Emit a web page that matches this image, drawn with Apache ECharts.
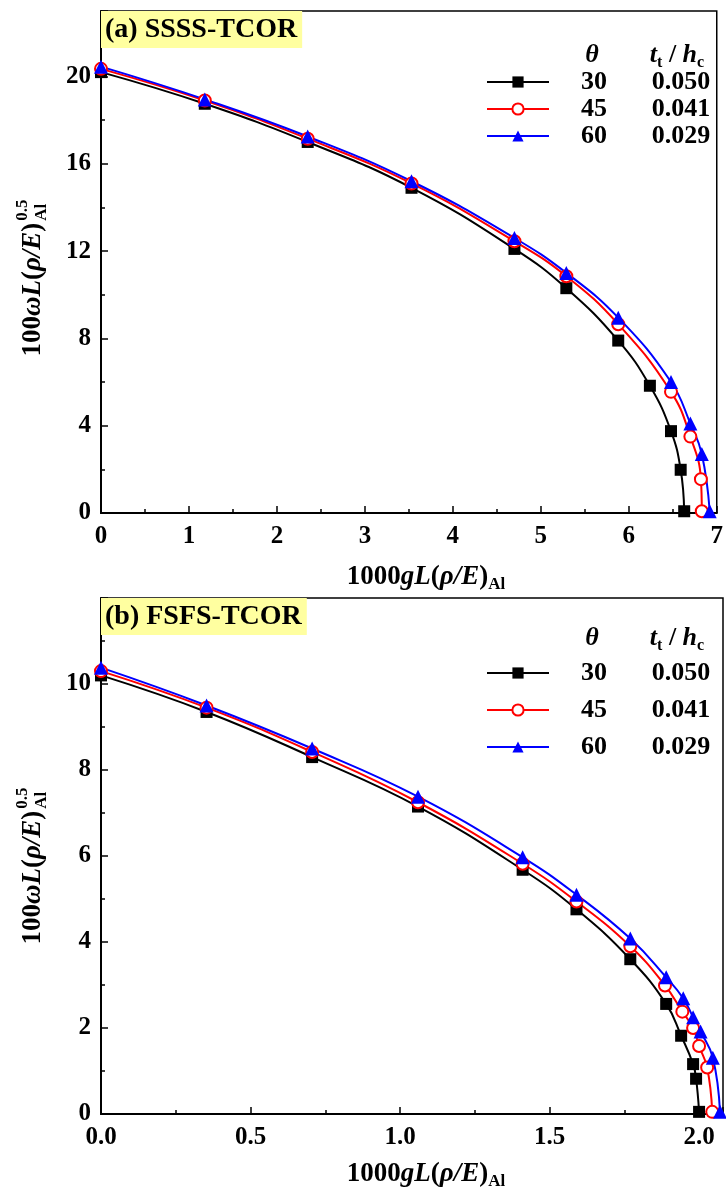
<!DOCTYPE html>
<html><head><meta charset="utf-8">
<script src="https://cdn.jsdelivr.net/npm/echarts@6/dist/echarts.min.js"></script>
<style>html,body{margin:0;padding:0;background:#fff}#c{width:726px;height:1189px}</style>
</head><body><div id="c"></div>
<script>
// ---------- data ----------
const thetaLabels = ['30', '45', '60'];
const ratioLabels = ['0.050', '0.041', '0.029'];
const colors = ['#000000', '#ff0000', '#0000ff'];

// (a) SSSS-TCOR
const a30x = [0, 1.18, 2.35, 3.53, 4.70, 5.29, 5.88, 6.24, 6.48, 6.59, 6.63];
const a30y = [20.2, 18.75, 17.0, 14.9, 12.1, 10.3, 7.9, 5.83, 3.75, 1.98, 0.08];
const a45x = [0, 1.18, 2.35, 3.53, 4.70, 5.29, 5.88, 6.48, 6.70, 6.82, 6.83];
const a45y = [20.35, 18.9, 17.15, 15.1, 12.45, 10.85, 8.65, 5.55, 3.5, 1.55, 0.08];
const a60x = [0, 1.18, 2.35, 3.53, 4.70, 5.29, 5.88, 6.48, 6.70, 6.83, 6.92];
const a60y = [20.45, 18.95, 17.25, 15.2, 12.6, 11.0, 8.95, 6.0, 4.1, 2.7, 0.08];

// (b) FSFS-TCOR
const b30x = [0, 0.353, 0.706, 1.06, 1.41, 1.59, 1.77, 1.89, 1.94, 1.98, 1.99, 2.0];
const b30y = [10.2, 9.35, 8.3, 7.15, 5.68, 4.76, 3.6, 2.56, 1.82, 1.16, 0.82, 0.05];
const b45x = [0, 0.353, 0.706, 1.06, 1.41, 1.59, 1.77, 1.886, 1.944, 1.98, 2.0, 2.027, 2.044];
const b45y = [10.3, 9.45, 8.42, 7.25, 5.82, 4.94, 3.9, 2.99, 2.38, 2.0, 1.58, 1.08, 0.05];
const b60x = [0, 0.353, 0.706, 1.06, 1.41, 1.59, 1.77, 1.89, 1.947, 1.98, 2.005, 2.046, 2.07];
const b60y = [10.38, 9.5, 8.5, 7.38, 5.97, 5.1, 4.08, 3.18, 2.69, 2.25, 1.92, 1.31, 0.05];

const xTicksA = { min: 0, max: 7, interval: 1 };
const yTicksA = { min: 0, max: 23, interval: 4 };
const xTicksB = { min: 0, max: 2.08, interval: 0.5 };
const yTicksB = { min: 0, max: 12, interval: 2 };

// ---------- helpers ----------
const FONT = '"Liberation Serif", "Times New Roman", serif';
const zip = (xs, ys) => xs.map((x, i) => [x, ys[i]]);
const mctx = document.createElement('canvas').getContext('2d');
function tw(font, s) { mctx.font = font; return mctx.measureText(s).width; }

const symbols = ['rect', 'circle', 'triangle'];
const symSizes = [12, 12, 14];
function mkSeries(name, data, k, gi) {
  return {
    type: 'line', name: name, xAxisIndex: gi, yAxisIndex: gi, data: data,
    smooth: 0.45,
    symbol: symbols[k], symbolSize: symSizes[k], showAllSymbol: true,
    lineStyle: { color: colors[k], width: 2 },
    itemStyle: k === 1 ? { color: '#ffffff', borderColor: colors[k], borderWidth: 2 } : { color: colors[k] },
    emphasis: { disabled: true }, animation: false, z: 3
  };
}

function xAxis(gi, t, fmt) {
  return {
    gridIndex: gi, type: 'value', min: t.min, max: t.max, interval: t.interval,
    axisLine: { onZero: false, lineStyle: { color: '#000', width: 2 } },
    axisTick: { inside: true, length: 7, lineStyle: { color: '#000', width: 1.5 } },
    minorTick: { show: true, splitNumber: 2, length: 4, lineStyle: { color: '#000', width: 1.5 } },
    splitLine: { show: false },
    axisLabel: { color: '#000', fontFamily: FONT, fontWeight: 'bold', fontSize: 25, margin: 11, formatter: fmt }
  };
}
function yAxis(gi, t) {
  return {
    gridIndex: gi, type: 'value', min: t.min, max: t.max, interval: t.interval,
    axisLine: { onZero: false, lineStyle: { color: '#000', width: 2 } },
    axisTick: { inside: true, length: 7, lineStyle: { color: '#000', width: 1.5 } },
    minorTick: { show: true, splitNumber: 2, length: 4, lineStyle: { color: '#000', width: 1.5 } },
    splitLine: { show: false },
    axisLabel: { color: '#000', fontFamily: FONT, fontWeight: 'bold', fontSize: 25, margin: 10, showMaxLabel: false }
  };
}

const legendRich = {
  a: { width: 80, align: 'center', fontFamily: FONT, fontWeight: 'bold', fontSize: 26, color: '#000' },
  b: { width: 94, align: 'center', fontFamily: FONT, fontWeight: 'bold', fontSize: 26, color: '#000' }
};
function mkLegend(prefix, top, gap) {
  return {
    data: thetaLabels.map(t => prefix + t), orient: 'vertical', left: 486, top: top,
    itemWidth: 62, itemHeight: 14, itemGap: gap, selectedMode: false, padding: 0,
    formatter: n => { const k = thetaLabels.indexOf(n.slice(prefix.length)); return '{a|' + thetaLabels[k] + '}{b|' + ratioLabels[k] + '}'; },
    textStyle: { rich: legendRich, fontFamily: FONT, fontSize: 26, fontWeight: 'bold', color: '#000' }
  };
}

const richMain = (sz) => ({
  n: { fontFamily: FONT, fontWeight: 'bold', fontSize: sz, lineHeight: sz + 6, verticalAlign: 'middle', fill: '#000' },
  i: { fontFamily: FONT, fontWeight: 'bold', fontStyle: 'italic', fontSize: sz, lineHeight: sz + 6, verticalAlign: 'middle', fill: '#000' },
  s: { fontFamily: FONT, fontWeight: 'bold', fontSize: Math.round(sz * 0.62), lineHeight: Math.round(sz * 0.62), verticalAlign: 'bottom', fill: '#000' }
});

function titleBox(text, x, y) {
  return { type: 'text', x: x, y: y, z: 10,
    style: { text: text, fontFamily: FONT, fontWeight: 'bold', fontSize: 28, fill: '#000',
      backgroundColor: '#ffffa0', padding: [5, 5, 4, 4] } };
}
function legendHeader(y) {
  return [
    { type: 'text', x: 592, y: y, style: { text: 'θ', fontFamily: FONT, fontWeight: 'bold', fontStyle: 'italic', fontSize: 26, fill: '#000', align: 'center', verticalAlign: 'middle' } },
    { type: 'text', x: 677, y: y, style: { text: '{i|t}{s|t}{n| / }{i|h}{s|c}', rich: richMain(26), align: 'center', verticalAlign: 'middle' } }
  ];
}
function xTitle(cx, cy) {
  return { type: 'text', x: cx, y: cy, style: { text: '{n|1000}{i|gL}{n|(}{i|ρ/E}{n|)}{s|Al}', rich: richMain(27), align: 'center', verticalAlign: 'middle' } };
}
function yTitle(cx, cy) {
  const sz = 27, ss = 17;
  const fb = 'bold ' + sz + 'px ' + FONT, fi = 'italic bold ' + sz + 'px ' + FONT, fs = 'bold ' + ss + 'px ' + FONT;
  const wm = tw(fb, '100') + tw(fi, 'ωL') + tw(fb, '(') + tw(fi, 'ρ/E') + tw(fb, ')');
  const wsc = Math.max(tw(fs, '0.5'), tw(fs, 'Al'));
  const W = wm + 2 + wsc;
  return {
    type: 'group', x: cx, y: cy, rotation: Math.PI / 2,
    children: [
      { type: 'text', x: -W / 2, y: 0, style: { text: '{n|100}{i|ωL}{n|(}{i|ρ/E}{n|)}', rich: richMain(sz), align: 'left', verticalAlign: 'middle' } },
      { type: 'text', x: -W / 2 + wm + 2, y: -1, style: { text: '0.5\nAl', fontFamily: FONT, fontWeight: 'bold', fontSize: ss, lineHeight: 19, fill: '#000', align: 'left', verticalAlign: 'middle' } }
    ]
  };
}

const chart = echarts.init(document.getElementById('c'), null, { renderer: 'canvas' });
chart.setOption({
  animation: false,
  backgroundColor: '#ffffff',
  grid: [
    { left: 101, top: 11, width: 622, height: 502, show: true, borderColor: '#000', borderWidth: 1.5, backgroundColor: 'transparent' },
    { left: 101, top: 598, width: 622, height: 516, show: true, borderColor: '#000', borderWidth: 1.5, backgroundColor: 'transparent' }
  ],
  xAxis: [xAxis(0, xTicksA), xAxis(1, xTicksB, v => v.toFixed(1))],
  yAxis: [yAxis(0, yTicksA), yAxis(1, yTicksB)],
  legend: [mkLegend('a', 69, 1), mkLegend('b', 660, 11)],
  series: [
    mkSeries('a30', zip(a30x, a30y), 0, 0),
    mkSeries('a45', zip(a45x, a45y), 1, 0),
    mkSeries('a60', zip(a60x, a60y), 2, 0),
    mkSeries('b30', zip(b30x, b30y), 0, 1),
    mkSeries('b45', zip(b45x, b45y), 1, 1),
    mkSeries('b60', zip(b60x, b60y), 2, 1)
  ],
  graphic: [
    titleBox('(a) SSSS-TCOR', 101, 11),
    titleBox('(b) FSFS-TCOR', 101, 598),
    ...legendHeader(55),
    ...legendHeader(638),
    xTitle(426, 577),
    xTitle(426, 1174),
    yTitle(33, 278),
    yTitle(33, 866)
  ]
});
</script></body></html>
